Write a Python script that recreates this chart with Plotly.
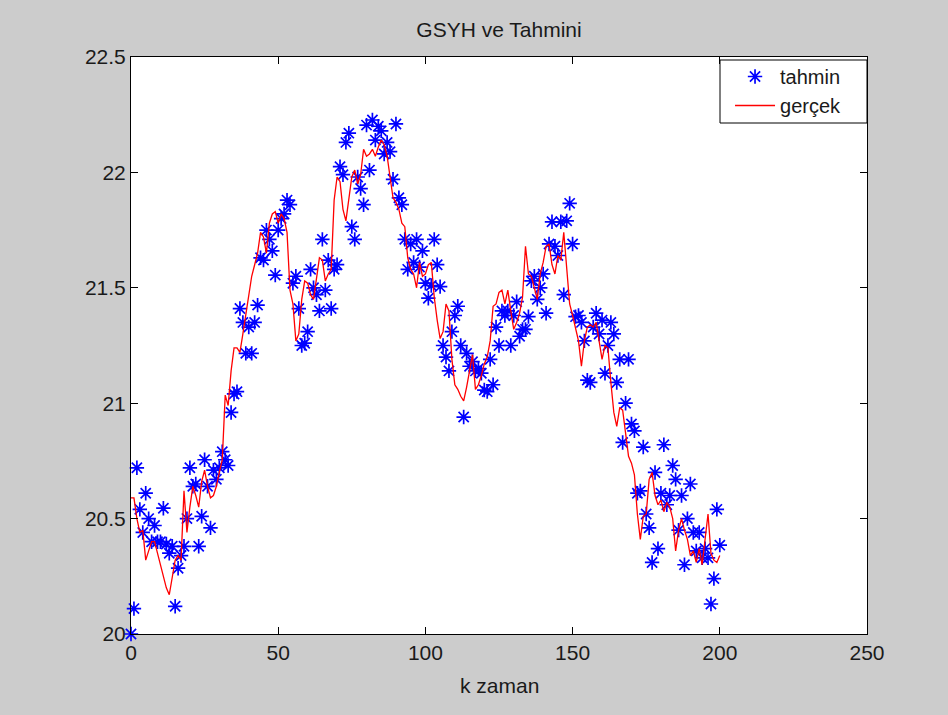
import plotly.graph_objects as go

# time index k = 0..200
k = list(range(201))

# estimated series (tahmin) – one value per k
tahmin = [
    20.00, 20.11, 20.72, 20.54, 20.44, 20.61, 20.50, 20.40, 20.47, 20.40,
    20.40, 20.545, 20.39, 20.35, 20.38, 20.12, 20.285, 20.34, 20.38, 20.50,
    20.72, 20.64, 20.65, 20.38, 20.51, 20.755, 20.64, 20.46, 20.71, 20.67,
    20.72, 20.79, 20.755, 20.73, 20.96, 21.04, 21.05, 21.41, 21.35, 21.216,
    21.33, 21.216, 21.35, 21.425, 21.63, 21.62, 21.75, 21.71, 21.66, 21.555,
    21.75, 21.80, 21.82, 21.88, 21.86, 21.52, 21.55, 21.41, 21.25, 21.26,
    21.31, 21.58, 21.50, 21.47, 21.40, 21.71, 21.49, 21.62, 21.41, 21.58,
    21.60, 22.025, 21.99, 22.13, 22.17, 21.765, 21.71, 21.98, 21.93, 21.86,
    22.205, 22.01, 22.227, 22.14, 22.20, 22.18, 22.08, 22.13, 22.09, 21.97,
    22.21, 21.89, 21.86, 21.71, 21.58, 21.69, 21.61, 21.71, 21.59, 21.66,
    21.52, 21.455, 21.51, 21.71, 21.60, 21.505, 21.25, 21.20, 21.14, 21.31,
    21.38, 21.42, 21.25, 20.94, 21.216, 21.16, 21.18, 21.14, 21.15, 21.13,
    21.057, 21.05, 21.19, 21.08, 21.33, 21.25, 21.40, 21.38, 21.40, 21.25,
    21.38, 21.44, 21.29, 21.32, 21.32, 21.375, 21.53, 21.55, 21.45, 21.50,
    21.56, 21.39, 21.69, 21.786, 21.68, 21.64, 21.786, 21.47, 21.79, 21.866,
    21.69, 21.375, 21.38, 21.35, 21.27, 21.10, 21.09, 21.33, 21.39, 21.30,
    21.36, 21.13, 21.25, 21.35, 21.30, 21.09, 21.19, 20.83, 21.00, 21.19,
    20.91, 20.88, 20.61, 20.62, 20.81, 20.52, 20.46, 20.31, 20.70, 20.37,
    20.61, 20.82, 20.56, 20.60, 20.73, 20.67, 20.45, 20.60, 20.30, 20.50,
    20.65, 20.44, 20.36, 20.44, 20.33, 20.37, 20.33, 20.13, 20.24, 20.54,
    20.385,
]

# actual series (gerçek) – one value per k
gercek = [
    20.59, 20.59, 20.50, 20.44, 20.45, 20.32, 20.36, 20.40, 20.40, 20.35,
    20.30, 20.25, 20.20, 20.17, 20.24, 20.32, 20.34, 20.32, 20.62, 20.44,
    20.55, 20.64, 20.60, 20.55, 20.66, 20.71, 20.64, 20.59, 20.60, 20.64,
    20.70, 20.755, 21.035, 20.99, 21.14, 21.24, 21.24, 21.22, 21.30, 21.38,
    21.46, 21.55, 21.60, 21.65, 21.74, 21.72, 21.65, 21.78, 21.82, 21.83,
    21.78, 21.82, 21.80, 21.74, 21.49, 21.43, 21.27, 21.30, 21.45, 21.53,
    21.52, 21.47, 21.45, 21.53, 21.63, 21.62, 21.53, 21.56, 21.58, 21.88,
    21.98, 21.96, 21.84, 21.79, 21.88, 21.98, 22.01, 21.95, 21.99, 22.10,
    22.07, 22.08, 22.10, 22.07, 22.11, 22.14, 22.12, 22.07, 21.98, 21.89,
    21.87, 21.84, 21.78, 21.765, 21.63, 21.58, 21.56, 21.50, 21.61, 21.55,
    21.56, 21.60, 21.61, 21.46, 21.36, 21.28, 21.31, 21.43, 21.40, 21.19,
    21.08, 21.06, 21.03, 21.01, 21.07, 21.15, 21.21, 21.06, 21.08, 21.12,
    21.17, 21.20, 21.27, 21.42, 21.43, 21.48, 21.49, 21.43, 21.49, 21.40,
    21.32, 21.35, 21.39, 21.46, 21.68, 21.56, 21.55, 21.50, 21.45, 21.56,
    21.61, 21.68, 21.69, 21.60, 21.56, 21.64, 21.62, 21.74, 21.60, 21.43,
    21.38, 21.33, 21.27, 21.16, 21.27, 21.33, 21.34, 21.33, 21.35, 21.27,
    21.19, 21.25, 21.24, 21.09, 20.96, 20.90, 20.98, 20.97, 20.86, 20.77,
    20.74, 20.69, 20.52, 20.41, 20.51, 20.52, 20.67, 20.70, 20.60, 20.56,
    20.58, 20.53, 20.57, 20.55, 20.50, 20.36, 20.45, 20.50, 20.45, 20.41,
    20.34, 20.36, 20.31, 20.37, 20.30, 20.40, 20.52, 20.35, 20.32, 20.31,
    20.34,
]

x_ticks = [0, 50, 100, 150, 200, 250]
y_ticks = [20, 20.5, 21, 21.5, 22, 22.5]

FONT = "Liberation Sans, Arial, sans-serif"
TXT = "#1a1a1a"

fig = go.Figure()

fig.add_trace(go.Scatter(
    x=k, y=tahmin, mode="markers", name="tahmin",
    marker=dict(symbol="asterisk-open", size=12, color="#0000ff",
                line=dict(color="#0000ff", width=1.7)),
    cliponaxis=False,
))
fig.add_trace(go.Scatter(
    x=k, y=gercek, mode="lines", name="gerçek",
    line=dict(color="#ff0000", width=1.3),
))

axis_common = dict(
    showgrid=False, zeroline=False,
    showline=True, linecolor="black", linewidth=1, mirror="ticks",
    ticks="inside", ticklen=7, tickcolor="black", tickwidth=1,
    tickfont=dict(family=FONT, size=21, color=TXT),
)

fig.update_layout(
    width=948, height=715,
    paper_bgcolor="#cccccc", plot_bgcolor="white",
    margin=dict(l=131, r=81, t=57, b=81, autoexpand=False),
    font=dict(family=FONT, size=21, color=TXT),
    title=dict(text="GSYH ve Tahmini", x=0.5, xref="paper",
               y=1 - 30 / 715, yref="container", yanchor="middle",
               xanchor="center", font=dict(family=FONT, size=21, color=TXT)),
    xaxis=dict(range=[0, 250], tickvals=x_ticks, **axis_common),
    yaxis=dict(range=[20, 22.5], tickvals=y_ticks,
               ticktext=["20", "20.5", "21", "21.5", "22", "22.5"], **axis_common),
    # legend entries on a transparent legend; the frame is a separate box
    legend=dict(x=0.8139, xanchor="left", y=1.0, yanchor="top",
                bgcolor="rgba(0,0,0,0)", borderwidth=0,
                font=dict(family=FONT, size=20, color=TXT),
                itemwidth=40, tracegroupgap=0),
    shapes=[dict(type="rect", xref="paper", yref="paper",
                 x0=(720 - 131) / 736, x1=1.0,
                 y0=1 - (123 - 57) / 577, y1=1 - (60 - 57) / 577,
                 line=dict(color="black", width=1), fillcolor="white",
                 layer="above")],
    showlegend=True,
    annotations=[dict(text="k zaman", x=0.5, xref="paper",
                      y=-(685 - 634) / 577, yref="paper", yanchor="middle",
                      showarrow=False, font=dict(family=FONT, size=21, color=TXT))],
)

fig.write_html("out.html")
